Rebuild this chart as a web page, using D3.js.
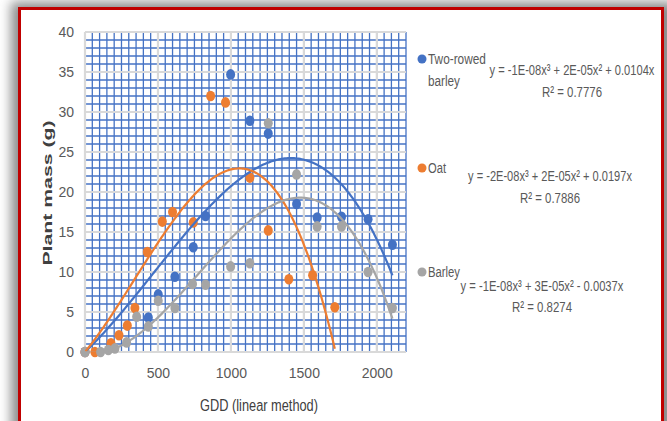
<!DOCTYPE html>
<html><head><meta charset="utf-8">
<script src="https://cdn.jsdelivr.net/npm/d3@7"></script>
<style>body{margin:0;background:#fff}svg{display:block}</style>
</head><body>
<svg id="c" width="667" height="421"></svg>
<script>
const xTicks = [0, 500, 1000, 1500, 2000];
const yTicks = [0, 5, 10, 15, 20, 25, 30, 35, 40];
const seriesNames = ["Two-rowed barley", "Oat", "Barley"];
const twoRowedX = [0, 434, 502, 616, 742, 826, 998, 1130, 1256, 1450, 1591, 1758, 1940, 2107];
const twoRowedY = [0, 4.3, 7.2, 9.4, 13.1, 17.0, 34.7, 28.9, 27.3, 18.5, 16.8, 16.9, 16.6, 13.4];
const oatX = [0, 68, 178, 233, 290, 342, 427, 530, 600, 742, 861, 963, 1130, 1256, 1397, 1560, 1712];
const oatY = [0, 0.0, 1.1, 2.1, 3.3, 5.5, 12.5, 16.3, 17.5, 16.2, 32.0, 31.2, 21.8, 15.2, 9.1, 9.6, 5.6];
const barleyX = [0, 107, 160, 205, 285, 354, 434, 502, 616, 737, 826, 998, 1130, 1256, 1450, 1591, 1758, 1940, 2107];
const barleyY = [0, 0.0, 0.25, 0.45, 1.2, 4.4, 3.2, 6.4, 5.5, 8.5, 8.4, 10.7, 11.1, 28.6, 22.2, 15.7, 15.7, 10.0, 5.5];
const equations = ["y = -1E-08x³ + 2E-05x² + 0.0104x", "y = -2E-08x³ + 2E-05x² + 0.0197x", "y = -1E-08x³ + 3E-05x² - 0.0037x"];
const rSquared = ["R² = 0.7776", "R² = 0.7886", "R² = 0.8274"];
const colors = ["#4472c4", "#ed7d31", "#a5a5a5"];

const svg = d3.select("#c");
const defs = svg.append("defs");
const f = defs.append("filter").attr("id","sh").attr("x","-10%").attr("y","-10%").attr("width","120%").attr("height","120%");
f.append("feGaussianBlur").attr("stdDeviation", 6);

svg.append("rect").attr("x",11).attr("y",2).attr("width",664).attr("height",440).attr("fill","#8a8a8a").attr("filter","url(#sh)");
svg.append("rect").attr("x",19.5).attr("y",8.5).attr("width",643).attr("height",430).attr("fill","#fff").attr("stroke","#c00000").attr("stroke-width",3);

const x = d3.scaleLinear().domain([0, 2200]).range([85, 406]);
const y = d3.scaleLinear().domain([0, 40]).range([352, 32]);

const grid = svg.append("g");
grid.selectAll(".mx").data(d3.range(0, 2201, 50)).join("line")
  .attr("x1", d => x(d)).attr("x2", d => x(d)).attr("y1", y(0)).attr("y2", y(40))
  .attr("stroke", "#4472c4").attr("stroke-width", 1.3);
grid.selectAll(".my").data(d3.range(0, 41, 1)).join("line")
  .attr("y1", d => y(d)).attr("y2", d => y(d)).attr("x1", x(0)).attr("x2", x(2200))
  .attr("stroke", "#4472c4").attr("stroke-width", 1.3);
grid.selectAll(".Mx").data(xTicks).join("line")
  .attr("x1", d => x(d)).attr("x2", d => x(d)).attr("y1", y(0)).attr("y2", y(40))
  .attr("stroke", "#d9d9d9").attr("stroke-width", 2.2);
grid.selectAll(".My").data(yTicks).join("line")
  .attr("y1", d => y(d)).attr("y2", d => y(d)).attr("x1", x(0)).attr("x2", x(2200))
  .attr("stroke", "#d9d9d9").attr("stroke-width", 2.2);

const font = "'Liberation Sans',Arial,sans-serif";
const ya = svg.append("g").attr("transform", `translate(${x(0)},0)`)
  .call(d3.axisLeft(y).tickValues(yTicks).tickSize(0).tickPadding(11));
ya.select(".domain").remove();
ya.selectAll("text").attr("font-family", font).attr("font-size", 14).attr("fill", "#595959");
const xa = svg.append("g").attr("transform", `translate(0,${y(0)})`)
  .call(d3.axisBottom(x).tickValues(xTicks).tickFormat(d3.format("d")).tickSize(0).tickPadding(16));
xa.select(".domain").remove();
xa.selectAll("text").attr("font-family", font).attr("font-size", 14).attr("fill", "#595959");

// text condensed horizontally to a target width via a scale transform
function narrowText(xp, yp, txt, w, size, anchor, rot) {
  const g = svg.append("g");
  const t = g.append("text").attr("x", 0).attr("y", 0).attr("dy","0.35em")
    .attr("text-anchor", anchor || "start").attr("font-family", font).attr("font-size", size || 14)
    .attr("fill", "#595959").text(txt);
  const nat = t.node().getComputedTextLength();
  const sx = w / nat;
  g.attr("transform", `translate(${xp},${yp})${rot ? " rotate(" + rot + ")" : ""} scale(${sx},1)`);
  return t;
}

narrowText(259, 405, "GDD (linear method)", 118, 17, "middle").attr("fill","#404040");
narrowText(48, 193, "Plant mass (g)", 137, 13, "middle", -90).attr("font-weight","bold").attr("fill","#404040").attr("dy","0.3em");

function fit(xs, ys) {
  const s = 1000;
  const X = xs.map(v => v / s);
  const M = [[0,0,0],[0,0,0],[0,0,0]], B = [0,0,0];
  X.forEach((v, i) => {
    const r = [v, v*v, v*v*v];
    for (let a = 0; a < 3; a++) { B[a] += r[a]*ys[i]; for (let b = 0; b < 3; b++) M[a][b] += r[a]*r[b]; }
  });
  for (let i = 0; i < 3; i++) {
    for (let k = i+1; k < 3; k++) {
      const fct = M[k][i]/M[i][i];
      for (let j = i; j < 3; j++) M[k][j] -= fct*M[i][j];
      B[k] -= fct*B[i];
    }
  }
  const c = [0,0,0];
  for (let i = 2; i >= 0; i--) {
    let sum = B[i];
    for (let j = i+1; j < 3; j++) sum -= M[i][j]*c[j];
    c[i] = sum / M[i][i];
  }
  return v => { const t = v / s; return c[0]*t + c[1]*t*t + c[2]*t*t*t; };
}

const series = [[twoRowedX, twoRowedY], [oatX, oatY], [barleyX, barleyY]];
svg.append("clipPath").attr("id","clip").append("rect").attr("x",x(0)).attr("y",y(40)).attr("width",x(2200)-x(0)).attr("height",y(0)-y(40));

const pts = svg.append("g");
series.forEach(([xs, ys], si) => {
  pts.selectAll(null).data(xs.map((v,i)=>[v, ys[i]])).join("ellipse")
    .attr("cx", d => x(d[0])).attr("cy", d => y(d[1])).attr("rx", 4.5).attr("ry", 5.3)
    .attr("fill", colors[si]);
});
const lines = svg.append("g").attr("clip-path","url(#clip)");
series.forEach(([xs, ys], si) => {
  const fn = fit(xs, ys);
  const xmax = d3.max(xs);
  const samples = d3.range(0, 201).map(i => xmax * i / 200);
  lines.append("path").datum(samples)
    .attr("d", d3.line().x(d => x(d)).y(d => y(fn(d))))
    .attr("fill","none").attr("stroke", colors[si]).attr("stroke-width", 2.2);
});

const leg = [{y:59, lines:[["Two-rowed",58],["barley",32]]},{y:168, lines:[["Oat",18]]},{y:272, lines:[["Barley",32]]}];
leg.forEach((l, i) => {
  svg.append("circle").attr("cx", 422).attr("cy", l.y).attr("r", 4.5).attr("fill", colors[i]);
  l.lines.forEach((t, j) => narrowText(428, l.y + j*22, t[0], t[1], 15.5));
});
const eqPos = [[572,70,165,572,92],[550,176,164,550,198],[542,286,163,542,307]];
eqPos.forEach((p, i) => {
  narrowText(p[0], p[1], equations[i], p[2], 15.5, "middle");
  narrowText(p[3], p[4], rSquared[i], 60, 15.5, "middle");
});
</script>
</body></html>
